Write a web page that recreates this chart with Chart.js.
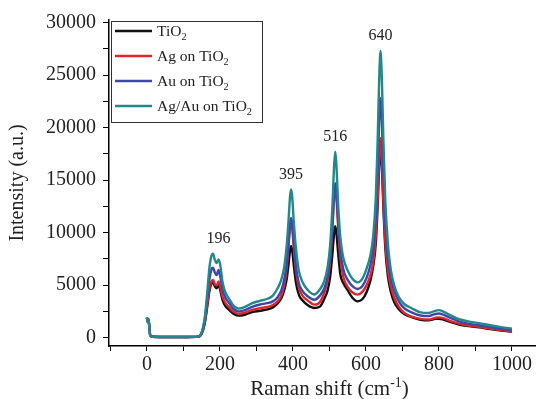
<!DOCTYPE html>
<html>
<head>
<meta charset="utf-8">
<script src="https://cdn.jsdelivr.net/npm/chart.js@4.4.1/dist/chart.umd.min.js"></script>
<style>
  html, body { margin: 0; padding: 0; background: #fff; }
  canvas { display: block; }
</style>
</head>
<body>
<canvas id="raman" width="536" height="399"></canvas>
<script>
// raman shift (cm-1) shared by all four spectra
const ramanShift = [
  0, 2, 4, 6, 9, 15, 60, 110, 140, 150,
  158, 165, 171, 176, 181, 186, 191, 196, 201, 207,
  215, 225, 238, 252, 270, 290, 310, 330, 345, 358,
  368, 376, 383, 388, 392, 395, 398, 402, 408, 416,
  426, 440, 458, 474, 486, 495, 502, 508, 513, 516,
  519, 524, 530, 538, 550, 563, 577, 590, 602, 612,
  620, 627, 632, 636, 640, 644, 648, 653, 660, 668,
  678, 690, 705, 725, 750, 772, 790, 800, 812, 830,
  855, 880, 910, 940, 970, 1000
];

const tio2 = [
  1900, 1500, 1750, 1200, 200, 80, 60, 60, 90, 380,
  1300, 2900, 4400, 5100, 5250, 4900, 4700, 5050, 4500, 3600,
  3000, 2650, 2250, 2090, 2200, 2450, 2550, 2680, 2880, 3250,
  3750, 4500, 5600, 7000, 8300, 8700, 8300, 7000, 5300, 4100,
  3550, 3100, 2820, 2950, 3700, 4500, 5800, 7900, 10000, 10600,
  10000, 8000, 6000, 5200, 4500, 3800, 3450, 3650, 4350, 5400,
  6800, 9000, 12500, 16200, 18200, 16000, 12300, 8600, 5900, 4400,
  3350, 2700, 2250, 1950, 1700, 1650, 1780, 1800, 1720, 1500,
  1250, 1100, 980, 820, 680, 570
];

const agOnTio2 = [
  1900, 1500, 1750, 1200, 200, 80, 60, 60, 90, 400,
  1400, 3100, 4600, 5300, 5500, 5100, 4950, 5350, 4800, 3900,
  3300, 2900, 2450, 2280, 2400, 2650, 2800, 2920, 3100, 3450,
  4000, 4950, 6700, 8750, 10500, 11100, 10500, 8750, 6450, 4800,
  4000, 3550, 3140, 3400, 4300, 5400, 7300, 10300, 13400, 14200,
  13400, 10500, 7600, 5800, 4800, 4300, 4090, 4350, 5000, 5900,
  7200, 9700, 13200, 16900, 19000, 16800, 12900, 9200, 6500, 4900,
  3750, 2950, 2350, 2000, 1780, 1720, 1880, 1930, 1850, 1600,
  1330, 1150, 1020, 860, 710, 600
];

const auOnTio2 = [
  1900, 1500, 1750, 1200, 200, 80, 60, 60, 90, 450,
  1600, 3600, 5500, 6400, 6650, 6200, 5950, 6450, 5800, 4600,
  3800, 3300, 2700, 2500, 2650, 2950, 3150, 3280, 3450, 3850,
  4500, 5500, 7100, 9050, 10800, 11400, 10800, 9050, 6900, 5200,
  4450, 3950, 3610, 4000, 4700, 5800, 7700, 10600, 13800, 14700,
  13900, 11000, 8300, 6500, 5500, 4900, 4630, 4900, 5700, 6900,
  8500, 11500, 15800, 20300, 22800, 20200, 15600, 11000, 7600, 5700,
  4400, 3450, 2800, 2400, 2100, 2050, 2250, 2300, 2180, 1900,
  1550, 1330, 1180, 1000, 850, 720
];

const agAuOnTio2 = [
  1900, 1500, 1750, 1200, 200, 80, 60, 60, 90, 500,
  1800, 4200, 6600, 7700, 8000, 7400, 7100, 7450, 6900, 5300,
  4300, 3700, 3000, 2760, 2950, 3300, 3500, 3700, 4000, 4700,
  5500, 6700, 8800, 11200, 13400, 14100, 13400, 11200, 8600, 6400,
  5300, 4550, 4100, 4600, 5400, 6700, 8800, 12400, 16500, 17700,
  16500, 12600, 9500, 7600, 6400, 5600, 5260, 5600, 6600, 7800,
  9700, 13300, 18600, 24200, 27300, 24200, 18600, 13100, 9000, 6500,
  4900, 3850, 3200, 2800, 2400, 2350, 2550, 2620, 2480, 2150,
  1750, 1550, 1380, 1180, 1000, 850
];

const seriesNames = ["TiO_{2}", "Ag on TiO_{2}", "Au on TiO_{2}", "Ag/Au on TiO_{2}"];
const seriesColors = ["#111111", "#e0242c", "#3d47a8", "#24878a"];
const peakLabels = [196, 395, 516, 640];
const xTickMarks = [-100, 0, 100, 200, 300, 400, 500, 600, 700, 800, 900, 1000];
const xTickLabels = [0, 200, 400, 600, 800, 1000];
const yTickMarks = [0, 2500, 5000, 7500, 10000, 12500, 15000, 17500, 20000, 22500, 25000, 27500, 30000];
const yTickLabels = [0, 5000, 10000, 15000, 20000, 25000, 30000];

const SERIF = "'Liberation Serif', 'Times New Roman', Times, serif";
Chart.defaults.font.family = SERIF;
Chart.defaults.color = "#222";

// draws text with _{sub} and ^{sup} parts
function drawRich(ctx, text, x, y, size, align) {
  const parts = [];
  text.replace(/([_^])\{([^}]*)\}|[^_^]+/g, (m, mark, inner) => {
    if (mark) parts.push({ t: inner, small: true, shift: mark === "_" ? 0.28 : -0.38 });
    else parts.push({ t: m, small: false, shift: 0 });
    return m;
  });
  let total = 0;
  parts.forEach(p => {
    ctx.font = `${p.small ? size * 0.66 : size}px ${SERIF}`;
    p.w = ctx.measureText(p.t).width;
    total += p.w;
  });
  let cx = align === "center" ? x - total / 2 : x;
  ctx.textAlign = "left";
  ctx.textBaseline = "alphabetic";
  parts.forEach(p => {
    ctx.font = `${p.small ? size * 0.66 : size}px ${SERIF}`;
    ctx.fillText(p.t, cx, y + p.shift * size);
    cx += p.w;
  });
}

const extras = {
  id: "extras",
  afterDraw(chart) {
    const { ctx, chartArea, scales } = chart;
    ctx.save();
    ctx.fillStyle = "#222";

    // peak positions
    ctx.font = `16px ${SERIF}`;
    ctx.textAlign = "center";
    ctx.textBaseline = "middle";
    peakLabels.forEach(p => {
      let top = 0;
      ramanShift.forEach((x, j) => {
        if (Math.abs(x - p) <= 15 && agAuOnTio2[j] > top) top = agAuOnTio2[j];
      });
      ctx.fillText(String(p), scales.x.getPixelForValue(p), scales.y.getPixelForValue(top) - 15);
    });

    // legend box
    const lx = chartArea.left + 2, ly = chartArea.top + 1;
    ctx.fillStyle = "#fff";
    ctx.fillRect(lx, ly, 151, 101);
    ctx.strokeStyle = "#333";
    ctx.lineWidth = 1;
    ctx.strokeRect(lx + 0.5, ly + 0.5, 151, 101);
    seriesNames.forEach((name, i) => {
      const ry = ly + 10 + i * 25;
      ctx.strokeStyle = seriesColors[i];
      ctx.lineWidth = 2.4;
      ctx.beginPath();
      ctx.moveTo(lx + 4, ry);
      ctx.lineTo(lx + 41, ry);
      ctx.stroke();
      ctx.fillStyle = "#222";
      drawRich(ctx, name, lx + 46, ry + 5, 15.5, "left");
    });

    // x axis title
    ctx.fillStyle = "#222";
    drawRich(ctx, "Raman shift (cm^{-1})", scales.x.getPixelForValue(500), 395, 21, "center");
    ctx.restore();
  }
};

new Chart(document.getElementById("raman"), {
  type: "line",
  data: {
    datasets: [tio2, agOnTio2, auOnTio2, agAuOnTio2].map((vals, i) => ({
      label: seriesNames[i].replace(/_\{(.*?)\}/g, "$1"),
      data: vals.map((v, j) => ({ x: ramanShift[j], y: v })),
      borderColor: seriesColors[i],
      borderWidth: 2.4,
      pointRadius: 0,
      cubicInterpolationMode: "monotone",
      fill: false,
      order: 4 - i
    }))
  },
  options: {
    responsive: false,
    animation: false,
    layout: { padding: { top: 20, right: 0, left: 0, bottom: 0 } },
    plugins: { legend: { display: false }, tooltip: { enabled: false } },
    scales: {
      x: {
        type: "linear",
        min: -104,
        max: 1066,
        afterBuildTicks: s => { s.ticks = xTickMarks.map(v => ({ value: v })); },
        afterFit: s => { s.height = 53; },
        border: { color: "#000", width: 1.5 },
        grid: { drawOnChartArea: false, drawTicks: true, tickLength: 5, tickColor: "#000" },
        ticks: {
          autoSkip: false,
          maxRotation: 0,
          padding: 2,
          color: "#222",
          font: { size: 20 },
          callback: v => (xTickLabels.includes(v) ? String(v) : "")
        }
      },
      y: {
        min: -800,
        max: 30250,
        afterBuildTicks: s => { s.ticks = yTickMarks.map(v => ({ value: v })); },
        afterFit: s => { s.width = 109; },
        border: { color: "#000", width: 1.5 },
        grid: { drawOnChartArea: false, drawTicks: true, tickLength: 6, tickColor: "#000" },
        title: {
          display: true,
          text: "Intensity (a.u.)",
          color: "#222",
          font: { size: 20 },
          padding: { top: 6, bottom: 0 }
        },
        ticks: {
          autoSkip: false,
          padding: 7,
          color: "#222",
          font: { size: 20 },
          callback: v => (yTickLabels.includes(v) ? String(v) : "")
        }
      }
    }
  },
  plugins: [extras]
});
</script>
</body>
</html>
